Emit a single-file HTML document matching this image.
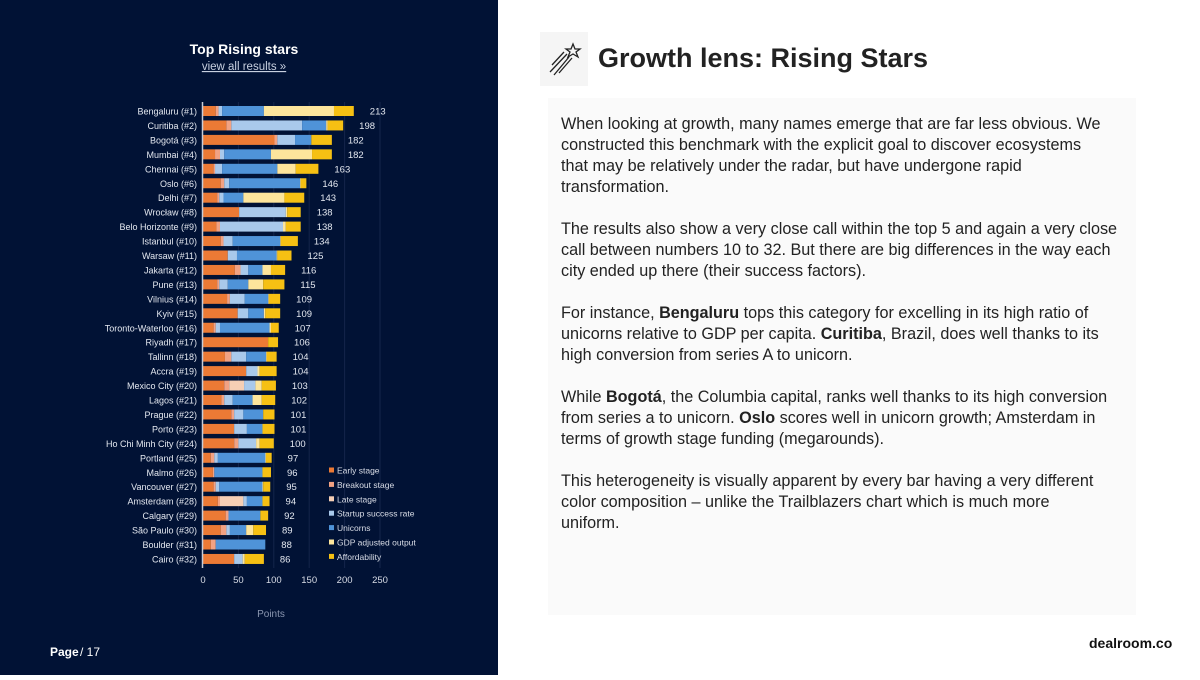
<!DOCTYPE html>
<html><head><meta charset="utf-8">
<style>
body{margin:0;width:1200px;height:675px;position:relative;background:#fff;font-family:"Liberation Sans",sans-serif;overflow:hidden}
#left{position:absolute;left:0;top:0;width:498px;height:675px;background:#011235}
#text{position:absolute;left:548px;top:98px;width:588px;height:517px;background:#fafafa}
#text p{margin:0 0 21px 13px;font-size:16.2px;line-height:21px;color:#222;white-space:nowrap}
#title{position:absolute;left:598px;top:43px;font-size:27px;font-weight:bold;color:#222}
#iconbox{position:absolute;left:540px;top:32px;width:48px;height:54px;background:#f5f5f5}
</style></head><body>
<div id="left">
<svg id="chart" width="498" height="675"></svg>
</div>
<div id="iconbox">
<svg width="48" height="54"><g fill="none" stroke="#222" stroke-width="1.3"><polygon points="33,12 35,17 40,17 36,20 38,25 33,22 28,25 30,20 26,17 31,17"/><line x1="27" y1="22" x2="10" y2="40"/><line x1="29" y1="25" x2="14" y2="43"/><line x1="32" y1="26" x2="19" y2="41"/><line x1="24" y1="20" x2="12" y2="33"/></g></svg>
</div>
<div id="title">Growth lens: Rising Stars</div>
<div id="text">
<div style="height:16px"></div>
<p>When looking at growth, many names emerge that are far less obvious. We<br>constructed this benchmark with the explicit goal to discover ecosystems<br>that may be relatively under the radar, but have undergone rapid<br>transformation.</p>
<p>The results also show a very close call within the top 5 and again a very close<br>call between numbers 10 to 32. But there are big differences in the way each<br>city ended up there (their success factors).</p>
<p>For instance, <b>Bengaluru</b> tops this category for excelling in its high ratio of<br>unicorns relative to GDP per capita. <b>Curitiba</b>, Brazil, does well thanks to its<br>high conversion from series A to unicorn.</p>
<p>While <b>Bogotá</b>, the Columbia capital, ranks well thanks to its high conversion<br>from series a to unicorn. <b>Oslo</b> scores well in unicorn growth; Amsterdam in<br>terms of growth stage funding (megarounds).</p>
<p>This heterogeneity is visually apparent by every bar having a very different<br>color composition – unlike the Trailblazers chart which is much more<br>uniform.</p>
</div>
<div style="position:absolute;left:1089px;top:635px;font-size:14px;font-weight:bold;color:#111">dealroom.co</div>
<script>
const cities=["Bengaluru (#1)","Curitiba (#2)","Bogotá (#3)","Mumbai (#4)","Chennai (#5)","Oslo (#6)","Delhi (#7)","Wrocław (#8)","Belo Horizonte (#9)","Istanbul (#10)","Warsaw (#11)","Jakarta (#12)","Pune (#13)","Vilnius (#14)","Kyiv (#15)","Toronto-Waterloo (#16)","Riyadh (#17)","Tallinn (#18)","Accra (#19)","Mexico City (#20)","Lagos (#21)","Prague (#22)","Porto (#23)","Ho Chi Minh City (#24)","Portland (#25)","Malmo (#26)","Vancouver (#27)","Amsterdam (#28)","Calgary (#29)","São Paulo (#30)","Boulder (#31)","Cairo (#32)"];
const seriesNames=["Early stage","Breakout stage","Late stage","Startup success rate","Unicorns","GDP adjusted output","Affordability"];
const early=[18,33,101,17,15,25,20,51,19,25,35,45,20,34,49,15,92,31,61,30,26,40,44,44,11,14,15,21,32,25,11,44];
const breakout=[4,7,4,7,2,5,3,0,5,4,0,8,3,4,0,3,0,9,0,7,4,4,0,6,5,2,3,3,4,8,7,0];
const late=[0,0,0,0,0,0,0,0,0,0,0,0,0,0,0,0,0,0,0,21,0,0,0,0,0,0,0,33,0,0,0,0];
const success=[5,100,25,6,10,7,6,66,89,13,13,11,12,21,15,6,0,21,16,16,12,13,18,25,5,0,5,5,0,5,0,12];
const unicorns=[59,34,23,66,78,100,28,0,0,67,56,20,29,33,22,70,0,28,0,0,28,28,22,0,67,68,61,22,45,23,70,0];
const gdp=[99,2,0,58,26,1,58,2,4,1,1,12,21,1,2,2,0,1,3,9,13,0,0,5,1,0,1,0,0,10,0,3];
const afford=[28,22,29,28,32,8,28,19,21,24,20,20,30,16,21,11,14,14,24,20,19,16,17,20,8,12,10,10,11,18,0,27];
const totals=[213,198,182,182,163,146,143,138,138,134,125,116,115,109,109,107,106,104,104,103,102,101,101,100,97,96,95,94,92,89,88,86];
const xTicks=[0,50,100,150,200,250];
const colors=["#ec7a35","#f2a283","#f6cfb5","#a9c9eb","#4f93d8","#fde59c","#f6c013"];
const NS="http://www.w3.org/2000/svg";
const svg=document.getElementById("chart");
const x=v=>203+v*0.708;
const y=i=>111+i*14.45;
function mk(t,a,p){const e=document.createElementNS(NS,t);for(const k in a)e.setAttribute(k,a[k]);(p||svg).appendChild(e);return e;}
function txt(s,a){const e=mk("text",a);e.textContent=s;return e;}
const t1=txt("Top Rising stars",{x:244,y:54,"text-anchor":"middle",fill:"#fff","font-size":14,"font-weight":"bold"});

const t2=txt("view all results »",{x:244,y:70,"text-anchor":"middle",fill:"#c8d0e0","font-size":11.5,"text-decoration":"underline"});

xTicks.forEach(t=>{
  if(t>0){const g=mk("line",{x1:x(t),x2:x(t),y1:102,y2:568,stroke:"#15254a","stroke-width":1});
  }
  const l=txt(String(t),{x:x(t),y:583,"text-anchor":"middle",fill:"#d8dce6","font-size":9.5});
  
});
const series=[early,breakout,late,success,unicorns,gdp,afford];
cities.forEach((c,i)=>{
  let acc=0;
  series.forEach((s,k)=>{
    if(s[i]>0){const r=mk("rect",{x:x(acc),y:y(i)-5,width:s[i]*0.708,height:10,fill:colors[k]});
    }
    acc+=s[i];
  });
  const lb=txt(c,{x:197,y:y(i)+3.5,"text-anchor":"end",fill:"#e4e8f0","font-size":9});
  
  const v=txt(String(totals[i]),{x:x(totals[i])+16,y:y(i)+3.5,"text-anchor":"start",fill:"#e4e8f0","font-size":9.5});
  
});
const ax=mk("line",{x1:202.5,x2:202.5,y1:102,y2:568,stroke:"#c8ccd6","stroke-width":1.5});

seriesNames.forEach((n,k)=>{
  const ly=471+k*14.4;
  const sq=mk("rect",{x:329,y:ly-3.5,width:5,height:5,fill:colors[k]});
  
  const lt=txt(n,{x:337,y:ly+2.5,fill:"#d8dce6","font-size":8.5});
  
});
const xt=txt("Points",{x:271,y:617,"text-anchor":"middle",fill:"#8a96b0","font-size":10});

const pg=txt("Page",{x:50,y:656,fill:"#fff","font-size":12,"font-weight":"bold"});

const pg2=txt("/ 17",{x:80,y:656,fill:"#fff","font-size":12});

</script>
</body></html>
